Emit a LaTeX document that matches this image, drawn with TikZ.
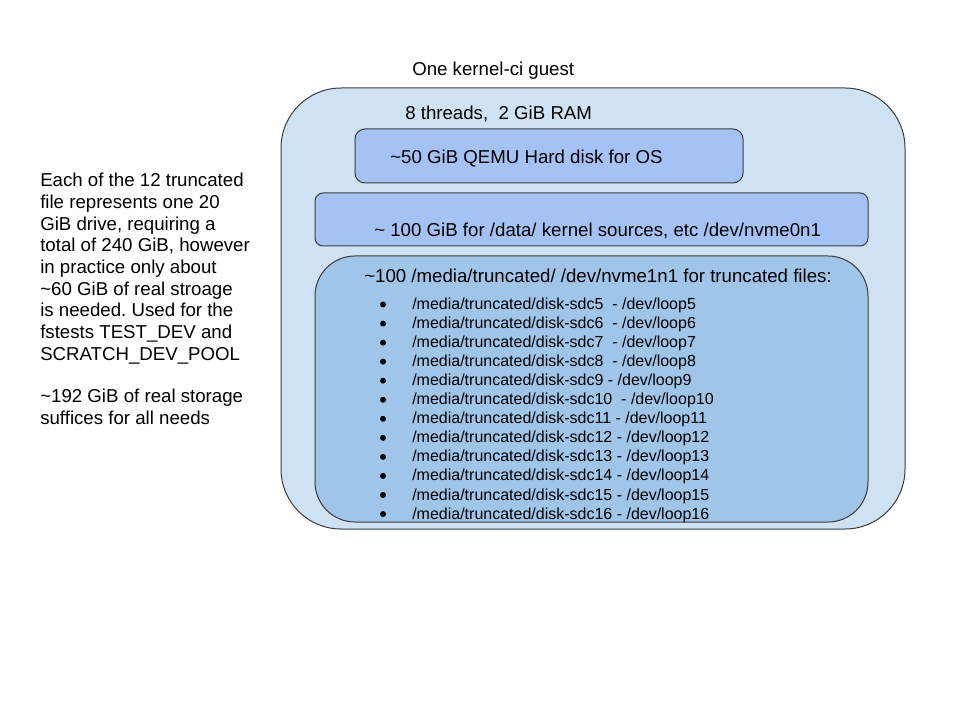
\documentclass[tikz,border=0pt]{standalone}
\usepackage{fontspec}
\setmainfont{Liberation Sans}
\frenchspacing
\definecolor{outerfill}{HTML}{CFE2F3}
\definecolor{diskfill}{HTML}{A4C2F4}
\definecolor{truncfill}{HTML}{9FC5E8}
\definecolor{edge}{HTML}{3C3C3C}
\begin{document}
\begin{tikzpicture}[x=0.75pt,y=-0.75pt,
  box/.style={draw=edge, line width=0.75pt, rectangle, inner sep=0pt, outer sep=0pt, anchor=north west},
  lbl/.style={anchor=base west, inner sep=0pt, font=\fontsize{14}{16}\selectfont},
  item/.style={anchor=base west, inner sep=0pt, font=\fontsize{12}{14}\selectfont},
  dot/.style={circle, fill=black, inner sep=0pt, minimum size=4.5pt}]
\useasboundingbox (0,0) rectangle (960,720);
\fill[white] (0,0) rectangle (960,720);

% boxes
\node[box, fill=outerfill, rounded corners=45pt, minimum width=468pt, minimum height=330.75pt] (guest) at (281,88) {};
\node[box, fill=diskfill, rounded corners=7.5pt, minimum width=291pt, minimum height=40.5pt] (osdisk) at (355,129) {};
\node[box, fill=diskfill, rounded corners=6pt, minimum width=414.75pt, minimum height=39.75pt] (datadisk) at (315,193) {};
\node[box, fill=truncfill, rounded corners=30pt, minimum width=414.75pt, minimum height=199.5pt] (truncdisk) at (315,256) {};

% labels
\node[lbl] (title) at (412,76) {One kernel-ci guest};
\node[lbl] (threads) at (405,120) {8 threads,\ \ 2 GiB RAM};
\node[lbl] (ostext) at (390,164) {\textasciitilde 50 GiB QEMU Hard disk for OS};
\node[lbl] (datatext) at (374,237) {\textasciitilde\ 100 GiB for /data/ kernel sources, etc /dev/nvme0n1};
\node[lbl] (trunctext) at (364,283) {\textasciitilde 100 /media/truncated/ /dev/nvme1n1 for truncated files:};

% list items
\foreach \t [count=\i from 0] in {
  {/media/truncated/disk-sdc5\ \ - /dev/loop5},
  {/media/truncated/disk-sdc6\ \ - /dev/loop6},
  {/media/truncated/disk-sdc7\ \ - /dev/loop7},
  {/media/truncated/disk-sdc8\ \ - /dev/loop8},
  {/media/truncated/disk-sdc9 - /dev/loop9},
  {/media/truncated/disk-sdc10\ \ - /dev/loop10},
  {/media/truncated/disk-sdc11 - /dev/loop11},
  {/media/truncated/disk-sdc12 - /dev/loop12},
  {/media/truncated/disk-sdc13 - /dev/loop13},
  {/media/truncated/disk-sdc14 - /dev/loop14},
  {/media/truncated/disk-sdc15 - /dev/loop15},
  {/media/truncated/disk-sdc16 - /dev/loop16}}{
  \node[dot] (b\i) at (383,{304.5+19.05*\i}) {};
  \node[item] (it\i) at (412,{309.5+19.05*\i}) {\t};
}

% left note
\foreach \t [count=\i from 0] in {
  {Each of the 12 truncated},
  {file represents one 20},
  {GiB drive, requiring a},
  {total of 240 GiB, however},
  {in practice only about},
  {\textasciitilde 60 GiB of real stroage},
  {is needed. Used for the},
  {fstests TEST\_DEV and},
  {SCRATCH\_DEV\_POOL}}{
  \node[lbl] (n\i) at (40,{186.7+21.7*\i}) {\t};
}
\node[lbl] (n9) at (40,402.5) {\textasciitilde 192 GiB of real storage};
\node[lbl] (n10) at (40,424) {suffices for all needs};
\end{tikzpicture}
\end{document}
